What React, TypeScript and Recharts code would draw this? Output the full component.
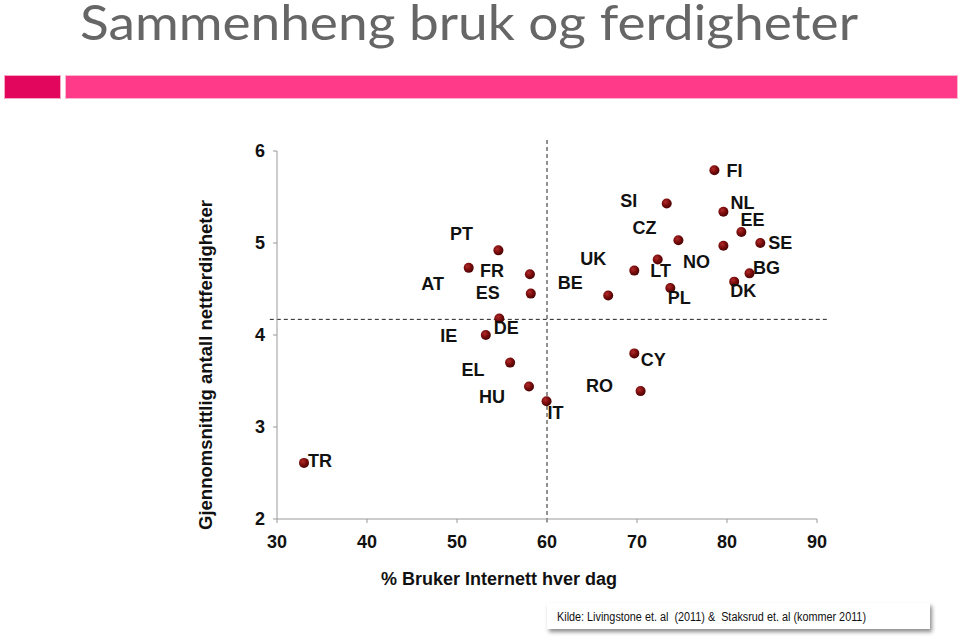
import React from "react";
import { ScatterChart, Scatter, XAxis, YAxis, ReferenceLine } from "recharts";

// EU Kids Online: daily internet use vs. average number of online skills
const countries = ["TR", "FI", "SI", "NL", "EE", "SE", "CZ", "NO", "LT", "UK", "BE", "PL", "BG", "DK", "PT", "AT", "FR", "ES", "DE", "IE", "EL", "HU", "IT", "CY", "RO"];
const internetUse = [33.0, 78.6, 73.3, 79.6, 81.6, 83.7, 74.6, 79.6, 72.3, 69.7, 66.8, 73.7, 82.5, 80.8, 54.6, 51.3, 58.1, 58.2, 54.7, 53.2, 55.9, 58.0, 59.95, 69.7, 70.4];
const skills = [2.61, 5.79, 5.43, 5.34, 5.12, 5.0, 5.03, 4.97, 4.82, 4.70, 4.43, 4.51, 4.67, 4.58, 4.92, 4.73, 4.66, 4.45, 4.18, 4.0, 3.70, 3.44, 3.28, 3.80, 3.39];

const xTicks = [30, 40, 50, 60, 70, 80, 90];
const yTicks = [2, 3, 4, 5, 6];
const avgUse = 60;
const avgSkills = 4.17;

const data = countries.map((c, i) => ({ name: c, x: internetUse[i], y: skills[i] }));

// where each country label sits relative to its dot (px)
const labelOffsets: Record<string, [number, number]> = {
  TR: [16, -2], FI: [20, 1], SI: [-38, -2], NL: [19, -9], EE: [11, -12], SE: [20, 0],
  CZ: [-34, -12], NO: [-27, 16], LT: [3, 11], UK: [-41, -12], BE: [-38, -12], PL: [9, 10],
  BG: [17, -5], DK: [9, 9], PT: [-37, -16], AT: [-36, 16], FR: [-38, -3], ES: [-43, -1],
  DE: [7, 10], IE: [-37, 1], EL: [-37, 7], HU: [-37, 10], IT: [9, 12], CY: [19, 7], RO: [-41, -5],
};

const font = "'Liberation Sans', Arial, sans-serif";

const Dot = (props: any) => {
  const { cx, cy, payload } = props;
  const [dx, dy] = labelOffsets[payload.name] || [12, 0];
  return (
    <g>
      <circle cx={cx} cy={cy} r={5} fill="url(#ball)" />
      <text
        x={cx + dx}
        y={cy + dy}
        textAnchor="middle"
        dominantBaseline="central"
        fontSize={18}
        fontWeight="bold"
        fontFamily={font}
        fill="#111"
      >
        {payload.name}
      </text>
    </g>
  );
};

const tickStyle = { fill: "#111", fontSize: 18, fontWeight: "bold", fontFamily: font };

export default function App() {
  return (
    <div style={{ position: "absolute", left: 0, top: 0, width: 960, height: 636, background: "#fff", overflow: "hidden" }}>
      <svg width={960} height={62} style={{ position: "absolute", left: 0, top: 0 }}>
        <text x={80} y={40} textLength={778} lengthAdjust="spacingAndGlyphs" fontSize={48} fill="#666" fontFamily="Lato, 'Open Sans', sans-serif">
          Sammenheng bruk og ferdigheter
        </text>
      </svg>
      <div style={{ position: "absolute", left: 5, top: 76, width: 55, height: 22, background: "#e2065c", boxShadow: "0 0 0 1px #f7a6c4" }} />
      <div style={{ position: "absolute", left: 66, top: 76, width: 891, height: 22, background: "#ff3a88", boxShadow: "0 0 0 1px #fbb6cf" }} />

      <div style={{ position: "absolute", left: 0, top: 0 }}>
        <ScatterChart width={960} height={636} margin={{ top: 151, right: 143, bottom: 87, left: 217 }}>
          <defs>
            <radialGradient id="ball" cx="38%" cy="35%" r="65%">
              <stop offset="0%" stopColor="#b02a2a" />
              <stop offset="55%" stopColor="#7a0c0c" />
              <stop offset="100%" stopColor="#4a0404" />
            </radialGradient>
          </defs>
          <XAxis
            type="number"
            dataKey="x"
            domain={[30, 90]}
            ticks={xTicks}
            height={30}
            tick={tickStyle}
            tickSize={4}
            tickMargin={12}
            axisLine={{ stroke: "#999" }}
            tickLine={{ stroke: "#999" }}
            allowDataOverflow
          />
          <YAxis
            type="number"
            dataKey="y"
            domain={[2, 6]}
            ticks={yTicks}
            width={60}
            tick={tickStyle}
            tickSize={4}
            tickMargin={8}
            axisLine={{ stroke: "#999" }}
            tickLine={{ stroke: "#999" }}
            allowDataOverflow
          />
          <ReferenceLine
            segment={[{ x: 29.2, y: avgSkills }, { x: 91.2, y: avgSkills }]}
            stroke="#222"
            strokeDasharray="4 3"
            ifOverflow="visible"
          />
          <ReferenceLine
            segment={[{ x: avgUse, y: 6.12 }, { x: avgUse, y: 1.95 }]}
            stroke="#222"
            strokeDasharray="4 3"
            ifOverflow="visible"
          />
          <Scatter data={data} shape={<Dot />} isAnimationActive={false} />
        </ScatterChart>
      </div>

      <svg width={960} height={636} style={{ position: "absolute", left: 0, top: 0, pointerEvents: "none" }}>
        <text
          transform="translate(212,365) rotate(-90)"
          textAnchor="middle"
          textLength={330}
          lengthAdjust="spacingAndGlyphs"
          fontSize={18}
          fontWeight="bold"
          fontFamily={font}
          fill="#111"
        >
          Gjennomsnittlig antall nettferdigheter
        </text>
        <text x={499} y={585} textAnchor="middle" fontSize={18} fontWeight="bold" fontFamily={font} fill="#111">
          % Bruker Internett hver dag
        </text>
      </svg>

      <div
        style={{
          position: "absolute",
          left: 547,
          top: 603,
          width: 383,
          height: 26,
          background: "#fff",
          boxShadow: "2px 3px 4px rgba(0,0,0,0.45)",
        }}
      >
        <svg width={383} height={26} style={{ display: "block" }}>
          <text
            x={10}
            y={17.5}
            textLength={309}
            lengthAdjust="spacingAndGlyphs"
            fontSize={12.5}
            fontFamily={font}
            fill="#111"
            style={{ whiteSpace: "pre" }}
          >
            {"Kilde: Livingstone et. al  (2011) &  Staksrud et. al (kommer 2011)"}
          </text>
        </svg>
      </div>
    </div>
  );
}
